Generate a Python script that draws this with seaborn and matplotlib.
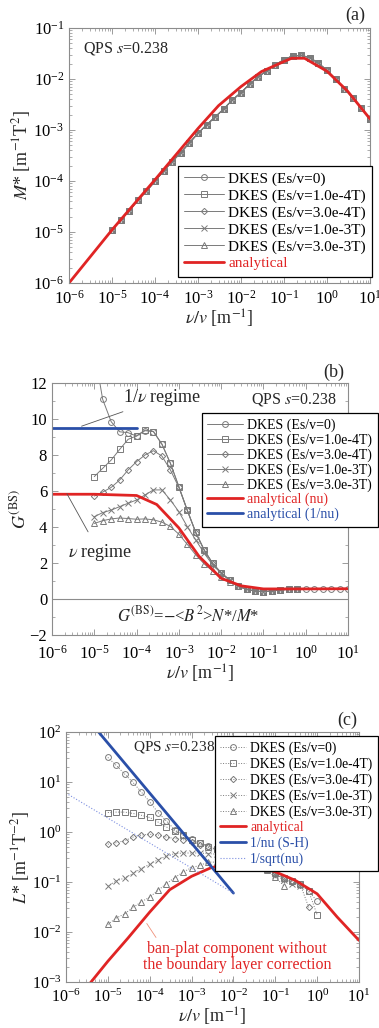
import matplotlib
matplotlib.use('Agg')
import matplotlib.pyplot as plt
from matplotlib.ticker import MultipleLocator, LogLocator, NullFormatter
import seaborn as sns

# DKES collisionality grid nu/v [1/m]
x_dkes = [1.0e-5, 1.58e-5, 2.51e-5, 3.98e-5, 6.31e-5,
          1.0e-4, 1.58e-4, 2.51e-4, 3.98e-4, 6.31e-4,
          1.0e-3, 1.58e-3, 2.51e-3, 3.98e-3, 6.31e-3,
          1.0e-2, 1.58e-2, 2.51e-2, 3.98e-2, 6.31e-2,
          1.0e-1, 1.58e-1, 2.51e-1, 3.98e-1, 6.31e-1,
          1.0, 1.58, 2.51, 3.98, 6.31, 10.0]

labels_dkes = ['DKES (Es/v=0)', 'DKES (Es/v=1.0e-4T)', 'DKES (Es/v=3.0e-4T)',
               'DKES (Es/v=1.0e-3T)', 'DKES (Es/v=3.0e-3T)']
markers = ['o', 's', 'D', 'x', '^']

# (a) M*
m_dkes = [1.1e-5, 1.7e-5, 2.6e-5, 4.2e-5, 6.3e-5, 9.9e-5, 1.58e-4, 2.4e-4, 3.6e-4, 5.6e-4,
          8.6e-4, 1.26e-3, 1.8e-3, 2.6e-3, 3.9e-3, 5.4e-3, 7.9e-3, 1.1e-2, 1.46e-2, 1.9e-2,
          2.4e-2, 2.83e-2, 2.9e-2, 2.63e-2, 2.04e-2, 1.48e-2, 1.0e-2, 6.5e-3, 4.3e-3, 2.7e-3, 1.65e-3]
x_m_ana = [1e-6, 1e-5, 1e-4, 1e-3, 3e-3, 1e-2, 3e-2, 0.1, 0.15, 0.3, 1, 3, 10]
m_ana = [1.0e-6, 1.1e-5, 1.06e-4, 1.07e-3, 3.0e-3, 7.1e-3, 1.4e-2, 2.2e-2, 2.55e-2, 2.55e-2,
         1.42e-2, 5.8e-3, 1.65e-3]

# (b) G(BS)
g_tail = [0.72, 0.54, 0.44, 0.41, 0.44, 0.5, 0.54, 0.55]
g_0 = [13.8, 11.09, 9.85, 9.29, 9.24, 9.05, 9.35, 9.3, 8.6, 7.54, 6.24, 4.94, 3.7, 2.72,
       1.98, 1.46, 1.06, 0.72, 0.54, 0.44, 0.41, 0.44, 0.5, 0.54, 0.55, 0.56, 0.56, 0.57,
       0.57, 0.57, 0.57]
g_1 = [6.8, 7.26, 7.72, 8.31, 8.87, 9.06, 9.39, 9.3, 8.6, 7.54, 6.24, 4.94, 3.7, 2.72,
       1.98, 1.46, 1.06] + g_tail
g_2 = [5.72, 5.94, 6.2, 6.61, 7.17, 7.63, 8.0, 8.24, 7.94, 7.17, 6.2, 4.92, 3.68, 2.7,
       1.97, 1.45, 1.05] + g_tail
g_3 = [4.57, 4.8, 4.94, 5.13, 5.32, 5.5, 5.78, 6.06, 6.06, 5.5, 4.85, 4.02, 3.28, 2.54,
       1.89, 1.43, 1.03] + g_tail
g_4 = [4.2, 4.35, 4.45, 4.5, 4.47, 4.43, 4.45, 4.4, 4.27, 4.03, 3.6, 3.04, 2.45, 1.95,
       1.55, 1.2, 0.92] + g_tail
x_g_nu = [1e-6, 1e-5, 1e-4, 3e-4, 1e-3, 3e-3, 1e-2, 3e-2, 0.1, 1, 10]
g_nu = [5.82, 5.82, 5.75, 5.25, 3.95, 2.37, 1.15, 0.73, 0.56, 0.56, 0.57]
x_g_inv = [1e-6, 1e-4]
g_inv = [9.5, 9.5]

# (c) L*
l_0 = [31, 21.5, 14.5, 9.8, 6.3, 4.0, 2.45, 1.66, 1.1, 0.88, 0.72, 0.6, 0.52, 0.46, 0.40,
       0.36, 0.32, 0.28, 0.235, 0.19, 0.15, 0.12, 0.105, 0.093, 0.066, 0.041]
l_1 = [2.45, 2.5, 2.5, 2.35, 2.16, 1.95, 1.58, 1.26, 1.05, 0.86, 0.70, 0.59, 0.51, 0.45,
       0.39, 0.35, 0.31, 0.27, 0.23, 0.185, 0.15, 0.118, 0.105, 0.09, 0.065, 0.022]
l_2 = [0.57, 0.61, 0.67, 0.79, 0.87, 0.9, 0.87, 0.79, 0.74, 0.70, 0.64, 0.56, 0.49, 0.44,
       0.38, 0.34, 0.30, 0.26, 0.225, 0.18, 0.145, 0.115, 0.1, 0.088, 0.031]
l_3 = [0.082, 0.105, 0.12, 0.148, 0.186, 0.226, 0.28, 0.33, 0.37, 0.38, 0.38, 0.38, 0.37,
       0.36, 0.34, 0.32, 0.29, 0.26, 0.22, 0.18, 0.14, 0.11, 0.093, 0.085]
l_4 = [0.0142, 0.019, 0.023, 0.031, 0.040, 0.05, 0.068, 0.093, 0.123, 0.158, 0.194, 0.215,
       0.25, 0.25, 0.26, 0.26, 0.25, 0.235, 0.21, 0.17, 0.125, 0.085]
x_l_ana = [3e-6, 1e-5, 3e-5, 1e-4, 3e-4, 1e-3, 3e-3, 1e-2, 3e-2, 0.1, 0.3, 1, 3, 10]
l_ana = [7.5e-4, 2.6e-3, 7.5e-3, 0.025, 0.07, 0.13, 0.195, 0.23, 0.22, 0.16, 0.108, 0.058,
         0.02, 0.0068]
x_l_sh = [1e-6, 1e-2]
l_sh = [600, 0.06]
l_sqrt = [6.0, 0.06]

RED = '#e02424'
BLUE = '#2a4fa8'
GREY = '#7a7a7a'

sns.set_style('ticks')
plt.rcParams['font.family'] = ['Liberation Serif', 'DejaVu Serif']
plt.rcParams['mathtext.fontset'] = 'stix'
plt.rcParams['xtick.direction'] = 'in'
plt.rcParams['ytick.direction'] = 'in'
plt.rcParams['xtick.top'] = True
plt.rcParams['ytick.right'] = True

fig = plt.figure(figsize=(3.79, 10.28), dpi=100)
ax_a = fig.add_axes([69 / 379, 1 - 283 / 1028, 301 / 379, 255 / 1028])
ax_b = fig.add_axes([52 / 379, 1 - 635 / 1028, 296 / 379, 252 / 1028])
ax_c = fig.add_axes([66 / 379, 1 - 982 / 1028, 293 / 379, 250 / 1028])


def style_axes(ax, size, xpad=5):
    for sp in ax.spines.values():
        sp.set_color('#8c8c8c')
        sp.set_linewidth(0.8)
    ax.tick_params(which='both', colors='#8c8c8c', labelcolor='black', labelsize=size)
    ax.tick_params(which='major', length=4, width=0.6)
    ax.tick_params(which='minor', length=2, width=0.5)
    ax.tick_params(axis='x', which='major', pad=xpad)


def dkes(ax, ys, ls):
    for y, lab, mk in zip(ys, labels_dkes, markers):
        ms = 3.2 if mk == 'D' else 4.2
        sns.lineplot(x=x_dkes[:len(y)], y=y, ax=ax, color=GREY, lw=0.7, linestyle=ls,
                     marker=mk, markersize=ms, markerfacecolor='none',
                     markeredgecolor=GREY, markeredgewidth=0.7, label=lab)


def legend(ax, x, y, size, spacing, hlen, colors):
    leg = ax.legend(loc='upper right', bbox_to_anchor=(x / 379, 1 - y / 1028),
                    bbox_transform=fig.transFigure, fontsize=size, frameon=True,
                    fancybox=False, edgecolor='black', framealpha=1, borderaxespad=0,
                    handlelength=hlen, handletextpad=0.3, labelspacing=spacing,
                    borderpad=0.4)
    leg.get_frame().set_linewidth(0.9)
    for t, c in zip(leg.get_texts(), colors):
        t.set_color(c)


xlab = r'$\nu/v$ [m$^{-1}$]'

# ---- (a)
dkes(ax_a, [m_dkes] * 5, '-')
sns.lineplot(x=x_m_ana, y=m_ana, ax=ax_a, color=RED, lw=2, label='analytical')
ax_a.set(xscale='log', yscale='log', xlim=(1e-6, 10), ylim=(1e-6, 1e-1))
ax_a.set_xlabel(xlab, fontsize=13, labelpad=0)
ax_a.set_ylabel(r'$M$* [m$^{-1}$T$^{2}$]', fontsize=13, labelpad=0)
ax_a.text(0.047, 0.918, r'QPS $s$=0.238', transform=ax_a.transAxes, fontsize=11.5,
          va='center')
style_axes(ax_a, 12)
legend(ax_a, 372, 166, 11, 0.2, 2.6, ['black'] * 5 + [RED])
fig.text(355 / 379, 1 - 15 / 1028, '(a)', fontsize=13, ha='center', va='center')

# ---- (b)
dkes(ax_b, [g_0, g_1, g_2, g_3, g_4], '-')
sns.lineplot(x=x_g_nu, y=g_nu, ax=ax_b, color=RED, lw=2, label='analytical (nu)')
sns.lineplot(x=x_g_inv, y=g_inv, ax=ax_b, color=BLUE, lw=2, label='analytical (1/nu)')
ax_b.set(xscale='log', xlim=(1e-6, 10), ylim=(-2, 12))
ax_b.axhline(0, color='#8c8c8c', lw=0.8)
ax_b.yaxis.set_major_locator(MultipleLocator(2))
ax_b.yaxis.set_minor_locator(MultipleLocator(1))
ax_b.set_xlabel(xlab, fontsize=13, labelpad=0)
ax_b.set_ylabel(r'$G^{\mathrm{(BS)}}$', fontsize=13, labelpad=0)
ax_b.text(0.963, 0.933, r'QPS $s$=0.238', transform=ax_b.transAxes, fontsize=11.5,
          ha='right', va='center')
ax_b.annotate(r'1/$\nu$ regime', xy=(5e-6, 9.6), xytext=(4.8e-5, 11.17),
              fontsize=13, va='center', ha='left',
              arrowprops=dict(arrowstyle='-', color='#555555', lw=0.6, shrinkA=0, shrinkB=0))
ax_b.annotate(r'$\nu$ regime', xy=(2.25e-6, 5.85), xytext=(1.35e-5, 2.56),
              fontsize=13, va='center', ha='center',
              arrowprops=dict(arrowstyle='-', color='#555555', lw=0.6, shrinkA=6, shrinkB=0))
ax_b.text(1.66e-3, -0.9, r'$G^{\mathrm{(BS)}}$=$-$<$B^2$>$N$*/$M$*', fontsize=12,
          ha='center', va='center')
style_axes(ax_b, 12, xpad=7)
legend(ax_b, 378, 413, 10, 0.1, 2.6, ['black'] * 5 + [RED, BLUE])
fig.text(334 / 379, 1 - 372 / 1028, '(b)', fontsize=13, ha='center', va='center')

# ---- (c)
dkes(ax_c, [l_0, l_1, l_2, l_3, l_4], ':')
sns.lineplot(x=x_l_ana, y=l_ana, ax=ax_c, color=RED, lw=2, label='analytical')
sns.lineplot(x=x_l_sh, y=l_sh, ax=ax_c, color=BLUE, lw=2, label='1/nu (S-H)')
sns.lineplot(x=x_l_sh, y=l_sqrt, ax=ax_c, color='#7d8fe0', lw=0.8, linestyle=':',
             label='1/sqrt(nu)')
ax_c.set(xscale='log', yscale='log', xlim=(1e-6, 10), ylim=(1e-3, 1e2))
ax_c.set_xlabel(xlab, fontsize=13, labelpad=0)
ax_c.set_ylabel(r'$L$* [m$^{-1}$T$^{-2}$]', fontsize=13, labelpad=0)
ax_c.text(0.229, 0.94, r'QPS $s$=0.238', transform=ax_c.transAxes, fontsize=11,
          va='center')
ax_c.annotate('ban-plat component without\nthe boundary layer correction',
              xy=(8.5e-5, 0.0148), xytext=(0.0124, 0.0032), fontsize=11.5, color=RED,
              ha='center', va='center', linespacing=1.0,
              arrowprops=dict(arrowstyle='-', color='#f0907a', lw=0.6, shrinkA=0,
                              shrinkB=0, relpos=(0.08, 1.0)))
style_axes(ax_c, 11.5)
legend(ax_c, 378, 736, 9.8, 0.18, 1.9, ['black'] * 5 + [RED, BLUE, BLUE])
fig.text(347 / 379, 1 - 720 / 1028, '(c)', fontsize=13, ha='center', va='center')

for ax in (ax_a, ax_c):
    ax.yaxis.set_major_locator(LogLocator(base=10, numticks=20))
    ax.yaxis.set_minor_locator(LogLocator(base=10, subs=range(2, 10), numticks=20))
    ax.yaxis.set_minor_formatter(NullFormatter())
for ax in (ax_a, ax_b, ax_c):
    ax.xaxis.set_major_locator(LogLocator(base=10, numticks=20))
    ax.xaxis.set_minor_locator(LogLocator(base=10, subs=range(2, 10), numticks=20))
    ax.xaxis.set_minor_formatter(NullFormatter())

fig.savefig('out.png', dpi=100)
